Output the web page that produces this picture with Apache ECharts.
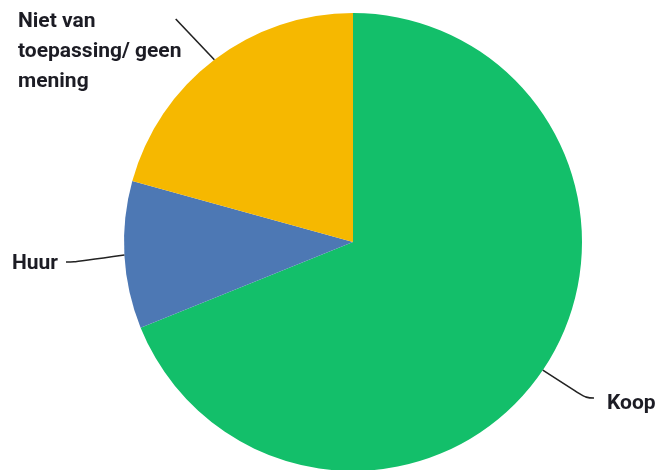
<!DOCTYPE html>
<html>
<head>
<meta charset="utf-8">
<script src="https://cdn.jsdelivr.net/npm/echarts@6/dist/echarts.min.js"></script>
<style>html,body{margin:0;padding:0;background:#fff}#c{width:660px;height:470px}</style>
</head>
<body>
<div id="c"></div>
<script>
var categories = ['Koop', 'Huur', 'Niet van\ntoepassing/ geen\nmening'];
var values = [68.9, 10.4, 20.7];
var colors = ['#13bf6a', '#4d78b4', '#f6b800'];
// label text placement
var labelSpots = [
  {x: 607, y: 404, align: 'left'},
  {x: 58, y: 264, align: 'right'},
  {x: 18, y: 52, align: 'left'}
];
// where each leader line ends
var lineEnds = [
  {x: 594, y: 398, align: 'left', len2: 8},
  {x: 66, y: 262, align: 'right', len2: 8},
  {x: 176, y: 18, align: 'right', len2: 0}
];
var chart = echarts.init(document.getElementById('c'));
var common = {
  type: 'pie',
  center: [353, 242],
  radius: 229,
  startAngle: 90,
  clockwise: true
};
chart.setOption({
  animation: false,
  series: [
    Object.assign({}, common, {
      data: categories.map(function (n, i) {
        return {name: n, value: values[i], itemStyle: {color: colors[i]}};
      }),
      label: {
        show: true,
        position: 'outside',
        overflow: 'none',
        width: 300,
        color: '#1c1c24',
        fontFamily: 'Roboto',
        fontWeight: 'bold',
        fontSize: 21,
        lineHeight: 30
      },
      labelLine: {show: false},
      labelLayout: function (p) {
        var s = labelSpots[p.dataIndex];
        return {x: s.x, y: s.y, align: s.align, verticalAlign: 'middle'};
      }
    }),
    Object.assign({}, common, {
      silent: true,
      z: 3,
      data: categories.map(function (n, i) {
        return {
          name: n, value: values[i],
          itemStyle: {color: 'rgba(0,0,0,0)'},
          labelLine: {length2: lineEnds[i].len2}
        };
      }),
      label: {
        show: true,
        position: 'outside',
        formatter: '.',
        color: 'rgba(0,0,0,0)',
        fontSize: 2
      },
      labelLine: {
        show: true,
        length: 15,
        length2: 8,
        smooth: 0.4,
        lineStyle: {color: '#222', width: 1.6}
      },
      labelLayout: function (p) {
        var s = lineEnds[p.dataIndex];
        return {x: s.x, y: s.y, align: s.align, verticalAlign: 'middle'};
      }
    })
  ]
});
</script>
</body>
</html>
